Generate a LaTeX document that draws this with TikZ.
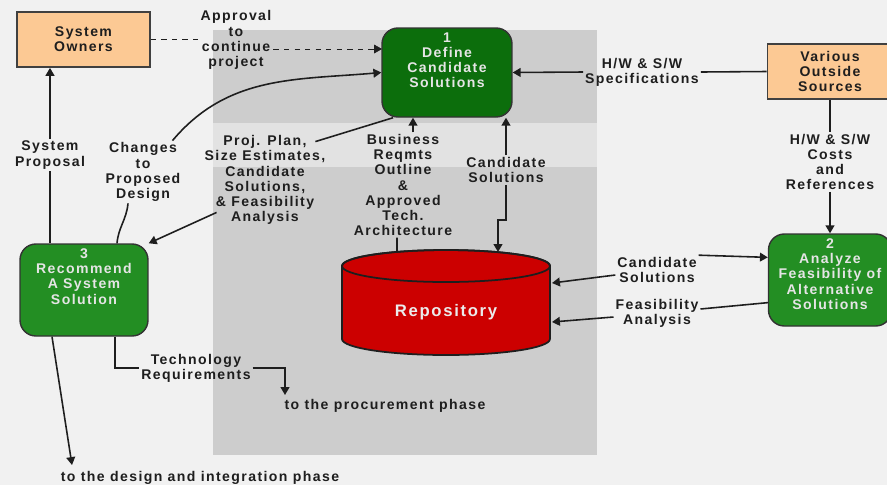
\documentclass[tikz,border=0pt]{standalone}
\usepackage{fontspec}
\setmainfont{Liberation Sans}[LetterSpace=10]
\usetikzlibrary{calc,arrows.meta}

\definecolor{peach}{HTML}{FCC994}
\definecolor{procgreen}{HTML}{0C6E0C}
\definecolor{litegreen}{HTML}{238E23}
\definecolor{repored}{HTML}{CC0000}
\definecolor{panel}{HTML}{CDCDCD}
\definecolor{band}{HTML}{E2E2E2}
\definecolor{bg}{HTML}{F1F1F1}
\definecolor{ink}{HTML}{1E1E1E}

\tikzset{
  ext/.style={draw=black!75, line width=1pt, fill=peach, align=center, text=ink,
    font=\bfseries\fontsize{8}{8.6}\selectfont},
  proc/.style={draw=black!80, line width=0.8pt, rounded corners=9pt},
  proctext/.style={anchor=north, align=center, text=black!10, inner sep=3pt,
    font=\bfseries\fontsize{8}{8.6}\selectfont},
  lbl/.style={align=center, text=ink, inner sep=1pt,
    font=\bfseries\fontsize{8}{8.6}\selectfont},
  flow/.style={->, line width=0.9pt, ink},
  line/.style={line width=0.9pt, ink}
}

\begin{document}
\begin{tikzpicture}[x=0.02cm, y=-0.02cm, >={Triangle[length=4.5pt,width=5pt]}]
\useasboundingbox (0,0) rectangle (887,485);
\fill[bg] (0,0) rectangle (887,485);

%--- Panels ---
\fill[band] (213,123) rectangle (597,167);
\foreach \ya/\yb in {30/123,167/455}{
  \fill[panel] (213,\ya) rectangle (597,\yb);
}

%--- External entities ---
\node[ext, minimum width=2.66cm, minimum height=1.1cm] (owners) at (83.5,39.5) {System\\Owners};
\node[ext, minimum width=2.5cm, minimum height=1.1cm] (src) at (830,71.5) {Various\\Outside\\Sources};

%--- Processes ---
\node[proc, fill=procgreen, minimum width=2.6cm, minimum height=1.78cm] (n1) at (447,72.5) {};
\node[proctext] (n1t) at (n1.north) {1\\Define\\Candidate\\Solutions};

\node[proc, fill=litegreen, minimum width=2.46cm, minimum height=1.84cm] (n2) at (830,280) {};
\node[proctext] (n2t) at (n2.north) {2\\Analyze\\Feasibility of\\Alternative\\Solutions};

\node[proc, fill=litegreen, minimum width=2.56cm, minimum height=1.84cm] (n3) at (84,290) {};
\node[proctext] (n3t) at (n3.north) {3\\Recommend\\A System\\Solution};

%--- Repository ---
\filldraw[fill=repored, draw=ink, line width=1pt]
  (342,266) -- (342,339) arc[start angle=180, end angle=360, x radius=2.08cm, y radius=0.32cm]
  -- (550,266) arc[start angle=0, end angle=180, x radius=2.08cm, y radius=0.32cm] -- cycle;
\draw[ink, line width=1pt] (446,266) ellipse[x radius=2.08cm, y radius=0.32cm];
\node[text=black!8, font=\bfseries\fontsize{9.5}{11}\selectfont] (repo) at (446,312) {Repository};
\coordinate (rbus) at (397,252);
\coordinate (rcs) at (498,252);
\coordinate (rcs2) at (552,283);
\coordinate (rfa) at (552,322);

%--- Labels ---
\node[lbl] (appr) at (236,40) {Approval\\to\\continue\\project};
\node[lbl] (prop) at (50,155) {System\\Proposal};
\node[lbl] (chg) at (143,172) {Changes\\to\\Proposed\\Design};
\node[lbl] (pp) at (265,180) {Proj. Plan,\\Size Estimates,\\Candidate\\Solutions,\\\& Feasibility\\Analysis};
\node[lbl] (bus) at (403,185) {Business\\Reqmts\\Outline\\\&\\Approved\\Tech.\\Architecture};
\node[lbl] (cs1) at (506,170) {Candidate\\Solutions};
\node[lbl] (hws) at (642,72) {H/W \& S/W\\Specifications};
\node[lbl] (cost) at (830,162) {H/W \& S/W\\Costs\\and\\References};
\node[lbl] (cs2) at (657,270) {Candidate\\Solutions};
\node[lbl] (fa) at (657,313) {Feasibility\\Analysis};
\node[lbl] (tech) at (196,368) {Technology\\Requirements};
\node[lbl] (proc) at (385,406) {to the procurement phase};
\node[lbl] (dip) at (200,478) {to the design and integration phase};
\coordinate (apin) at (382,49);
\coordinate (tin) at (285,395);
\coordinate (din) at (72,465);

%--- Flows ---
\draw[line, dashed, thin] (owners.east) -- (appr.west |- owners.east);
\draw[flow, dashed, thin] (appr.east |- apin) -- (apin);
\draw[flow] (prop) -- (prop |- owners.south);
\draw[line] (n3.north -| prop) -- (prop);
\draw[line] ([xshift=-0.3cm]chg.south) to[out=-95,in=85] ([xshift=0.66cm]n3.north);
\draw[flow] ([xshift=-0.2cm]chg.north east) to[out=50,in=185] (n1.west);
\draw[line] (n1.-140) -- ([shift={(-12,8)}]pp.north east);
\draw[flow] ([shift={(14,-14)}]pp.south west) -- (n3.north east);
\draw[flow] ([xshift=0.2cm]bus.north) -- ([xshift=0.2cm]bus.north |- n1.south);
\draw[line] ([xshift=-0.12cm]bus.south) -- (rbus);
\draw[flow] (cs1) -- (cs1 |- n1.south);
\draw[flow] (cs1.south) -- (cs1.south |- 0,220) -| (rcs);
\draw[line] (src.west) -- (hws.east);
\draw[flow] (hws.west) -- (n1.east);
\draw[line] (src.south) -- (cost.north);
\draw[flow] (cost.south) -- (n2.north);
\draw[flow] (cs2.north east) -- (n2.160);
\draw[flow] ([yshift=-0.1cm]cs2.west) -- (rcs2);
\draw[line] (n2.200) -- ([yshift=0.08cm]fa.east);
\draw[flow] ([yshift=-0.08cm]fa.west) -- (rfa);
\draw[flow] ([xshift=0.62cm]n3.south) |- (tech) -| (tin);
\draw[flow] ([xshift=-0.64cm]n3.south) -- (din);

\end{tikzpicture}
\end{document}
